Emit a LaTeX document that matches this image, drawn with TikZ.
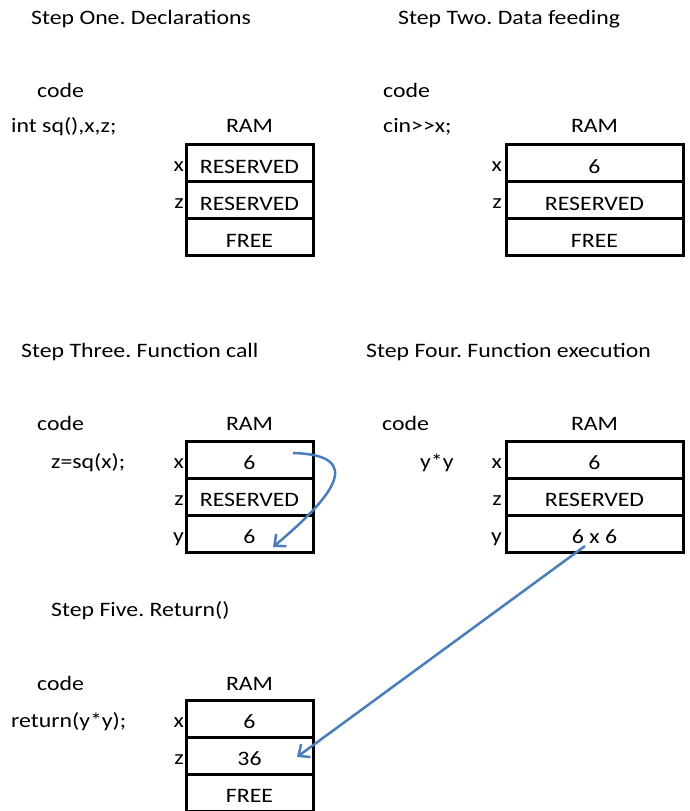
\documentclass[tikz,border=0pt]{standalone}
\usepackage{fontspec}
\setmainfont{Carlito}[FakeStretch=1.16, Ligatures=TeXOff]
\frenchspacing
\usetikzlibrary{arrows.meta}
\definecolor{arrowblue}{RGB}{74,126,187}
\begin{document}
\begin{tikzpicture}[x=1pt,y=-1pt,
  txt/.style={inner sep=0pt, font=\fontsize{20.5}{24}\selectfont},
  cell/.style={draw, line width=3pt, minimum height=37pt, inner sep=0pt,
    text height=20pt, text depth=0pt, anchor=north, font=\fontsize{20.5}{24}\selectfont},
  narrow/.style={cell, minimum width=127pt},
  wide/.style={cell, minimum width=177pt},
  flow/.style={draw=arrowblue, line width=2.5pt, -{Straight Barb[length=9pt,width=16pt]}}
]
\useasboundingbox (0,0) rectangle (689,811);

% ---------- Step One ----------
\node[txt, anchor=base west] (t1) at (31,24) {Step One. Declarations};
\node[txt, anchor=base west] (code1) at (37,97) {code};
\node[txt, anchor=base west] (src1) at (11,132) {int sq(),x,z;};
\node[txt, anchor=base] (ram1) at (249.5,132) {RAM};
\node[narrow] (a1) at (249.5,143) {RESERVED};
\node[narrow] (a2) at (249.5,180) {RESERVED};
\node[narrow] (a3) at (249.5,217) {FREE};
\node[txt, anchor=base east] (la1) at (184,171.5) {x};
\node[txt, anchor=base east] (la2) at (184,208.5) {z};

% ---------- Step Two ----------
\node[txt, anchor=base west] (t2) at (398,24) {Step Two. Data feeding};
\node[txt, anchor=base west] (code2) at (383,97) {code};
\node[txt, anchor=base west] (src2) at (383,132) {cin>>x;};
\node[txt, anchor=base] (ram2) at (594.5,132) {RAM};
\node[wide] (b1) at (594.5,143) {6};
\node[wide] (b2) at (594.5,180) {RESERVED};
\node[wide] (b3) at (594.5,217) {FREE};
\node[txt, anchor=base east] (lb1) at (502,171.5) {x};
\node[txt, anchor=base east] (lb2) at (502,208.5) {z};

% ---------- Step Three ----------
\node[txt, anchor=base west] (t3) at (21,357) {Step Three. Function call};
\node[txt, anchor=base west] (code3) at (37,430) {code};
\node[txt, anchor=base west] (src3) at (51,468) {z=sq(x);};
\node[txt, anchor=base] (ram3) at (249.5,430) {RAM};
\node[narrow] (c1) at (249.5,439.5) {6};
\node[narrow] (c2) at (249.5,476.5) {RESERVED};
\node[narrow] (c3) at (249.5,513.5) {6};
\node[txt, anchor=base east] (lc1) at (184,468) {x};
\node[txt, anchor=base east] (lc2) at (184,505) {z};
\node[txt, anchor=base east] (lc3) at (184,542) {y};

% ---------- Step Four ----------
\node[txt, anchor=base west] (t4) at (366,357) {Step Four. Function execution};
\node[txt, anchor=base west] (code4) at (382,430) {code};
\node[txt, anchor=base west] (src4) at (420,468) {y*y};
\node[txt, anchor=base] (ram4) at (594.5,430) {RAM};
\node[wide] (d1) at (594.5,439.5) {6};
\node[wide] (d2) at (594.5,476.5) {RESERVED};
\node[wide] (d3) at (594.5,513.5) {6 x 6};
\node[txt, anchor=base east] (ld1) at (502,468) {x};
\node[txt, anchor=base east] (ld2) at (502,505) {z};
\node[txt, anchor=base east] (ld3) at (502,542) {y};

% ---------- Step Five ----------
\node[txt, anchor=base west] (t5) at (51,616) {Step Five. Return()};
\node[txt, anchor=base west] (code5) at (37,690) {code};
\node[txt, anchor=base west] (src5) at (11,727) {return(y*y);};
\node[txt, anchor=base] (ram5) at (249.5,690) {RAM};
\node[narrow] (e1) at (249.5,698.5) {6};
\node[narrow] (e2) at (249.5,735.5) {36};
\node[narrow] (e3) at (249.5,772.5) {FREE};
\node[txt, anchor=base east] (le1) at (184,727) {x};
\node[txt, anchor=base east] (le2) at (184,764) {z};

% ---------- Arrows ----------
\coordinate (c3s) at (293,453);
\coordinate (c3e) at (273,547);
\draw[flow] (c3s) .. controls (365,455) and (335,495) .. (c3e);
\coordinate (d4s) at (585,546);
\coordinate (e5e) at (297,757);
\draw[flow] (d4s) -- (e5e);
\end{tikzpicture}
\end{document}
